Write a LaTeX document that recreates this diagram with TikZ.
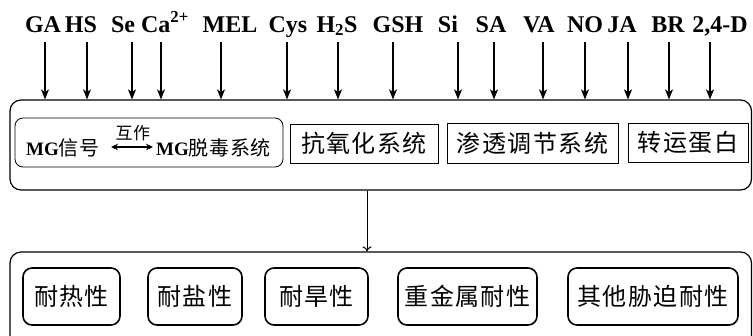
\documentclass[tikz,border=0pt]{standalone}
\usepackage{fontspec}
\setmainfont{Liberation Serif}
\newfontfamily\cjk[LetterSpace=6]{Noto Sans CJK SC}
\newfontfamily\cjks[LetterSpace=3]{Noto Sans CJK SC}
\usetikzlibrary{arrows.meta}
\tikzset{
  lbl/.style={anchor=base, inner sep=0pt, font=\bfseries\fontsize{24}{26}\selectfont},
  arr/.style={line width=1.3pt, -{Stealth[length=10pt,width=8pt,inset=2.5pt]}},
  outerbox/.style={draw, line width=1.2pt, rounded corners=11pt, inner sep=0pt},
  mgbox/.style={draw, line width=0.8pt, rounded corners=8pt, inner sep=0pt},
  sysbox/.style={draw, line width=0.8pt, inner sep=0pt, font=\cjk\fontsize{24}{26}\selectfont},
  tolbox/.style={draw, line width=1.6pt, rounded corners=9pt, inner sep=0pt, font=\cjk\fontsize{24}{26}\selectfont},
}
\begin{document}
\begin{tikzpicture}[x=1pt,y=-1pt]
\useasboundingbox (0,0) rectangle (753,335);
\clip (0,0) rectangle (753,335);
% labels and arrows
\foreach \t/\tx/\ax/\n in {GA/43/45/a1, HS/81/87/a2, Se/123/132/a3, Ca\textsuperscript{2+}/165/161/a4, MEL/230/221/a5, Cys/288/287/a6, H\textsubscript{2}S/337/338/a7, GSH/398/393/a8, Si/448/458/a9, SA/491/494/a10, VA/539/543/a11, NO/585/585/a12, JA/622/628/a13, BR/668/669/a14, {2,4-D}/720/710/a15}{
  \node[lbl] (\n) at (\tx,32) {\t};
  \coordinate (\n s) at (\ax,42);
  \coordinate (\n e) at (\ax,99.4);
  \draw[arr] (\n s) -- (\n e);
}
% box 1
\node[outerbox, minimum width=741.5pt, minimum height=90pt] (box1) at (380.75,145) {};
\node[mgbox, minimum width=268pt, minimum height=49pt] (mg) at (149,142.5) {};
\node[anchor=base west, inner sep=0pt] (mgsig) at (26,155) {\fontsize{19}{20}\selectfont\bfseries MG\cjks\mdseries\fontsize{20}{22}\selectfont 信号};
\node[anchor=base west, inner sep=0pt] (mgdet) at (156,155) {\fontsize{19}{20}\selectfont\bfseries MG\cjks\mdseries\fontsize{20}{22}\selectfont 脱毒系统};
\coordinate (iaL) at (111,147);
\coordinate (iaR) at (153,147);
\draw[line width=1.1pt, {Stealth[length=7pt,width=6.5pt]}-{Stealth[length=7pt,width=6.5pt]}] (iaL) -- (iaR);
\node[inner sep=0pt, font=\cjks\fontsize{17}{18}\selectfont] (hz) at (133,133) {互作};
\node[sysbox, minimum width=148pt, minimum height=39pt] (anti) at (364,143.5) {抗氧化系统};
\node[sysbox, minimum width=171pt, minimum height=40pt] (osm) at (532.5,143) {渗透调节系统};
\node[sysbox, minimum width=120pt, minimum height=39pt] (trans) at (688,142.5) {转运蛋白};
% box 2
\node[outerbox, minimum width=741.5pt, minimum height=100pt] (box2) at (380.75,302) {};
\coordinate (dnS) at (367,190.6);
\coordinate (dnE) at (367,251.4);
\draw[line width=1pt, -{To[length=5pt,width=9pt]}] (dnS) -- (dnE);
\node[tolbox, minimum width=97pt, minimum height=57pt] (t1) at (71.5,296.5) {耐热性};
\node[tolbox, minimum width=94pt, minimum height=57pt] (t2) at (195,296.5) {耐盐性};
\node[tolbox, minimum width=103pt, minimum height=57pt] (t3) at (316.5,296.5) {耐旱性};
\node[tolbox, minimum width=139pt, minimum height=57pt] (t4) at (467.5,296.5) {重金属耐性};
\node[tolbox, minimum width=170pt, minimum height=57pt] (t5) at (653,296.5) {其他胁迫耐性};
\end{tikzpicture}
\end{document}
